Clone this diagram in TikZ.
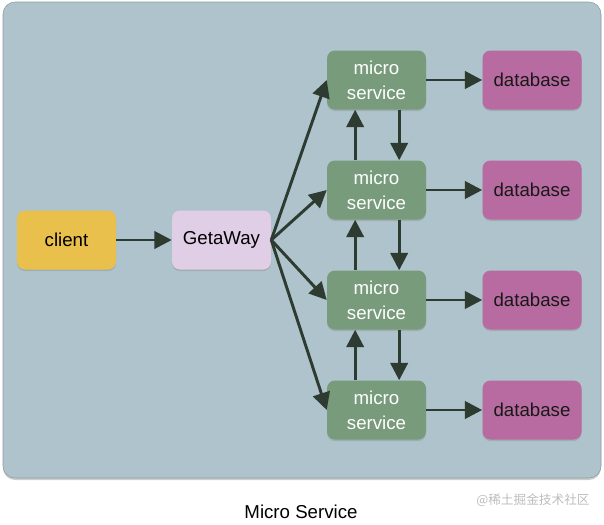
\documentclass[tikz,border=0pt]{standalone}
\usepackage{fontspec}
\setmainfont{Liberation Sans}
\newfontfamily\cjkfont{Noto Sans CJK SC}
\usetikzlibrary{arrows.meta,shadows}
\definecolor{panelbg}{HTML}{AEC3CB}
\definecolor{panelline}{HTML}{8E9CA2}
\definecolor{clientc}{HTML}{E8C04B}
\definecolor{gatec}{HTML}{E0CDE6}
\definecolor{microc}{HTML}{789B7C}
\definecolor{dbc}{HTML}{B86BA0}
\definecolor{arrowc}{HTML}{2D3B31}
\definecolor{markc}{HTML}{BDBDBD}

\begin{document}
\begin{tikzpicture}[x=0.75pt,y=-0.75pt,
  box/.style={rounded corners=6pt, minimum width=74.25pt, minimum height=44.25pt,
    inner sep=0pt, align=center, font=\fontsize{14}{18.5}\selectfont,
    drop shadow={shadow xshift=0pt, shadow yshift=-1.2pt, opacity=0.3}},
  clientbox/.style={box, fill=clientc},
  gatebox/.style={box, fill=gatec},
  microbox/.style={box, fill=microc, text=white},
  dbbox/.style={box, fill=dbc, text=black!90},
  arr/.style={draw=arrowc, line width=2.2pt, -{Triangle[length=13pt,width=13pt]}}]
\useasboundingbox (0,0) rectangle (604,525);
% background panel
\draw [draw=panelline, fill=panelbg, rounded corners=9pt,
  drop shadow={shadow xshift=0pt, shadow yshift=-1.5pt, opacity=0.4}] (3,2) rectangle (601,478);
% left side
\node [clientbox] (client) at (66.5,240) {client};
\node [gatebox] (gate) at (221.5,240) {GetaWay};
% services and their databases
\foreach \i/\y in {1/80,2/190,3/300,4/410} {
  \node [microbox] (ms\i) at (376.5,\y) {micro\\service};
  \node [dbbox] (db\i) at (532,\y) {database};
  \draw [arr] (ms\i.east) -- (db\i.west);
  \draw [arr] (gate.east) -- (ms\i.west);
}
\draw [arr] (client.east) -- (gate.west);
% links between services
\foreach \a/\b in {1/2,2/3,3/4} {
  \draw [arr] ([xshift=-16pt]ms\b.north) -- ([xshift=-16pt]ms\a.south);
  \draw [arr] ([xshift=17pt]ms\a.south) -- ([xshift=17pt]ms\b.north);
}
% caption
\node [font=\fontsize{14}{16}\selectfont] (caption) at (301,512) {Micro Service};
\node [font=\cjkfont\fontsize{9.5}{11}\selectfont, text=markc] (mark) at (533,500) {@稀土掘金技术社区};
\end{tikzpicture}
\end{document}
